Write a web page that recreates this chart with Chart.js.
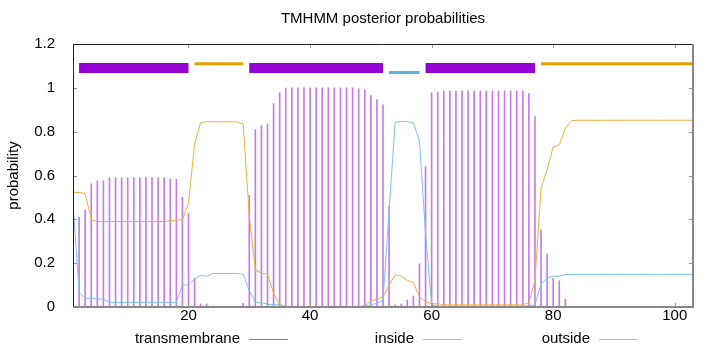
<!DOCTYPE html>
<html>
<head>
<meta charset="utf-8">
<script src="https://cdn.jsdelivr.net/npm/chart.js@4.4.1/dist/chart.umd.min.js"></script>
<style>
  html, body { margin: 0; padding: 0; background: #fff; }
  #wrap { width: 720px; height: 352px; }
</style>
</head>
<body>
<div id="wrap"><canvas id="chart" width="720" height="352"></canvas></div>
<script>
// posterior probabilities per residue (1..103)
const transmembrane = [
  0.002, 0.41, 0.442, 0.562, 0.576, 0.576, 0.59, 0.59, 0.59, 0.59,
  0.59, 0.59, 0.59, 0.59, 0.59, 0.59, 0.585, 0.583, 0.501, 0.427,
  0.131, 0.014, 0.014, 0.005, 0.002, 0.001, 0.001, 0.001, 0.017, 0.509,
  0.809, 0.827, 0.836, 0.928, 0.977, 0.999, 1.0, 1.0, 1.0, 1.0,
  1.0, 1.0, 1.0, 1.0, 1.0, 1.0, 1.0, 0.996, 0.991, 0.965,
  0.946, 0.923, 0.459, 0.01, 0.014, 0.032, 0.05, 0.197, 0.641, 0.977,
  0.981, 0.986, 0.986, 0.986, 0.986, 0.986, 0.986, 0.986, 0.986, 0.986,
  0.986, 0.986, 0.986, 0.986, 0.986, 0.974, 0.869, 0.352, 0.242, 0.13,
  0.12, 0.035, 0, 0, 0, 0, 0, 0, 0, 0,
  0, 0, 0, 0, 0, 0, 0, 0, 0, 0,
  0, 0, 0
];
const inside = [
  0.475, 0.067, 0.04, 0.04, 0.036, 0.036, 0.021, 0.021, 0.021, 0.021,
  0.021, 0.021, 0.021, 0.021, 0.021, 0.021, 0.021, 0.021, 0.1, 0.1,
  0.127, 0.145, 0.14, 0.153, 0.153, 0.153, 0.153, 0.153, 0.149, 0.075,
  0.022, 0.019, 0.013, 0.009, 0.012, 0.002, 0.002, 0.002, 0.002, 0.002,
  0.002, 0.002, 0.002, 0.002, 0.002, 0.002, 0.002, 0.002, 0.004, 0.01,
  0.017, 0.03, 0.44, 0.843, 0.846, 0.846, 0.84, 0.756, 0.335, 0.009,
  0.004, 0.004, 0.004, 0.004, 0.004, 0.004, 0.004, 0.004, 0.004, 0.004,
  0.004, 0.004, 0.004, 0.004, 0.004, 0.006, 0.01, 0.105, 0.132, 0.14,
  0.141, 0.148, 0.149, 0.149, 0.149, 0.149, 0.149, 0.149, 0.149, 0.149,
  0.149, 0.149, 0.149, 0.149, 0.149, 0.149, 0.149, 0.149, 0.149, 0.149,
  0.149, 0.149, 0.149
];
const outside = [
  0.523, 0.523, 0.518, 0.398, 0.39, 0.39, 0.39, 0.39, 0.39, 0.39,
  0.39, 0.39, 0.39, 0.39, 0.39, 0.39, 0.394, 0.396, 0.399, 0.473,
  0.742, 0.841, 0.846, 0.845, 0.845, 0.845, 0.845, 0.845, 0.834, 0.416,
  0.169, 0.154, 0.151, 0.063, 0.011, 0, 0, 0, 0, 0,
  0, 0, 0, 0, 0, 0, 0, 0, 0.005, 0.025,
  0.037, 0.047, 0.1, 0.147, 0.14, 0.122, 0.11, 0.047, 0.024, 0.014,
  0.015, 0.01, 0.01, 0.01, 0.01, 0.01, 0.01, 0.01, 0.01, 0.01,
  0.01, 0.01, 0.01, 0.01, 0.01, 0.02, 0.121, 0.543, 0.626, 0.73,
  0.739, 0.817, 0.85, 0.852, 0.852, 0.852, 0.852, 0.852, 0.852, 0.852,
  0.852, 0.852, 0.852, 0.852, 0.852, 0.852, 0.852, 0.852, 0.852, 0.852,
  0.852, 0.852, 0.852
];

// predicted topology segments [start, end]
const tmSegments = [[2, 20], [30, 52], [59, 77]];
const outsideSegments = [[21, 29], [78, 103]];
const insideSegments = [[53, 58]];
const tmLevel = 1.09, outsideLevel = 1.11, insideLevel = 1.07;

const xTicks = [20, 40, 60, 80, 100];
const yTicks = [0, 0.2, 0.4, 0.6, 0.8, 1, 1.2];

const PURPLE = '#9400d3';
const ORANGE = '#e69f00';
const BLUE = '#56b4e9';
const FONT = '"Liberation Sans", Arial, sans-serif';

const pts = arr => arr.map((v, k) => ({ x: k + 1, y: v }));

const datasets = [];
function addSegs(segs, level, color, width) {
  segs.forEach(s => {
    datasets.push({
      type: 'line',
      data: [{ x: s[0], y: level }, { x: s[1], y: level }],
      borderColor: color,
      borderWidth: width,
      borderCapStyle: 'butt',
      pointRadius: 0,
      order: 0
    });
  });
}
addSegs(tmSegments, tmLevel, PURPLE, 10);
addSegs(outsideSegments, outsideLevel, ORANGE, 3);
addSegs(insideSegments, insideLevel, BLUE, 3);

datasets.push({
  type: 'line', label: 'outside', data: pts(outside),
  borderColor: 'rgb(238,176,60)', borderWidth: 1, pointRadius: 0, tension: 0, order: 1
});
datasets.push({
  type: 'line', label: 'inside', data: pts(inside),
  borderColor: 'rgb(120,195,238)', borderWidth: 1, pointRadius: 0, tension: 0, order: 1
});
datasets.push({
  type: 'bar', label: 'transmembrane', data: pts(transmembrane),
  backgroundColor: 'rgb(198,122,236)', barThickness: 1, grouped: false, order: 2
});

const decor = {
  id: 'decor',
  afterDraw(chart) {
    const { ctx, chartArea: a } = chart;
    const xs = chart.scales.x, ys = chart.scales.y;
    ctx.save();
    // inner tick marks
    ctx.strokeStyle = '#999';
    ctx.lineWidth = 1;
    ctx.beginPath();
    yTicks.forEach(v => {
      const y = Math.round(ys.getPixelForValue(v)) + 0.5;
      ctx.moveTo(a.left, y); ctx.lineTo(a.left + 4, y);
      ctx.moveTo(a.right, y); ctx.lineTo(a.right - 4, y);
    });
    xTicks.forEach(v => {
      const x = Math.round(xs.getPixelForValue(v)) + 0.5;
      ctx.moveTo(x, a.top); ctx.lineTo(x, a.top + 4);
      ctx.moveTo(x, a.bottom); ctx.lineTo(x, a.bottom - 4);
    });
    ctx.stroke();
    // border
    ctx.strokeStyle = '#222';
    ctx.beginPath();
    ctx.moveTo(Math.round(a.left) + 0.5, Math.round(a.bottom));
    ctx.lineTo(Math.round(a.left) + 0.5, Math.round(a.top) + 0.5);
    ctx.lineTo(Math.round(a.right), Math.round(a.top) + 0.5);
    ctx.stroke();
    ctx.strokeStyle = '#888';
    ctx.lineWidth = 2;
    ctx.beginPath();
    ctx.moveTo(Math.round(a.left), Math.round(a.bottom));
    ctx.lineTo(Math.round(a.right), Math.round(a.bottom));
    ctx.lineTo(Math.round(a.right), Math.round(a.top));
    ctx.stroke();
    // title
    ctx.fillStyle = '#000';
    ctx.font = '15px ' + FONT;
    ctx.textAlign = 'center';
    ctx.textBaseline = 'middle';
    ctx.fillText('TMHMM posterior probabilities', (a.left + a.right) / 2, 19);
    // legend
    const items = [
      ['transmembrane', 240, 'rgb(175,90,228)'],
      ['inside', 414, 'rgb(130,198,240)'],
      ['outside', 590, 'rgb(240,185,80)']
    ];
    ctx.textAlign = 'right';
    ctx.lineWidth = 1;
    items.forEach(([t, x, c]) => {
      ctx.fillStyle = '#000';
      ctx.fillText(t, x, 339);
      ctx.strokeStyle = c;
      ctx.beginPath();
      ctx.moveTo(x + 9, 339.5);
      ctx.lineTo(x + 48, 339.5);
      ctx.stroke();
    });
    ctx.restore();
  }
};

new Chart(document.getElementById('chart'), {
  type: 'line',
  data: { datasets },
  options: {
    responsive: false,
    animation: false,
    devicePixelRatio: 1,
    layout: { padding: { top: 44, right: 27, left: 0, bottom: 0 } },
    plugins: { legend: { display: false }, title: { display: false }, tooltip: { enabled: false } },
    scales: {
      x: {
        type: 'linear', min: 1, max: 103, offset: false,
        grid: { display: false }, border: { display: false },
        afterBuildTicks: s => { s.ticks = xTicks.map(v => ({ value: v })); },
        afterFit: s => { s.height = 45; },
        ticks: { color: '#000', font: { family: FONT, size: 15 }, padding: -8, maxRotation: 0 }
      },
      y: {
        type: 'linear', min: 0, max: 1.2,
        grid: { display: false }, border: { display: false },
        afterBuildTicks: s => { s.ticks = yTicks.map(v => ({ value: v })); },
        afterFit: s => { s.width = 73; },
        ticks: {
          color: '#000', font: { family: FONT, size: 15 }, padding: 10,
          callback: v => String(Number(v.toFixed(1)))
        },
        title: { display: true, text: 'probability', color: '#000', font: { family: FONT, size: 15 }, padding: { top: 5, bottom: 0 } }
      }
    }
  },
  plugins: [decor]
});
</script>
</body>
</html>
